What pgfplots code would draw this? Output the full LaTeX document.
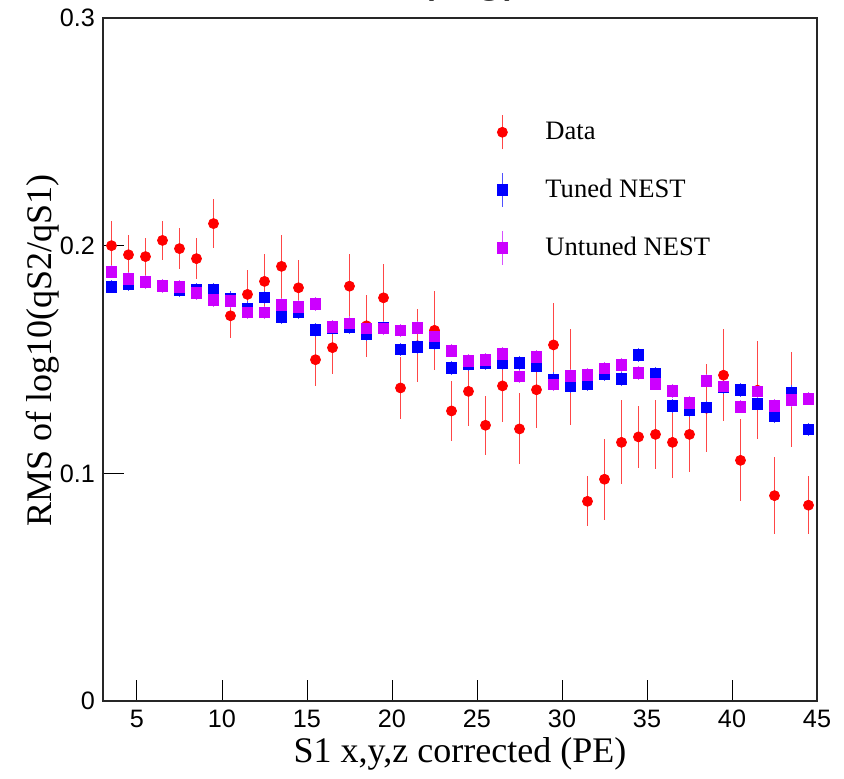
\documentclass[border=0pt]{standalone}
\usepackage{pgfplots}
\pgfplotsset{compat=1.18}
\usepackage{pgfplotstable}
\usepackage{fontspec}
\setmainfont{Liberation Serif}
\newfontfamily\sansf{Liberation Sans}
\definecolor{dred}{RGB}{255,0,0}
\definecolor{dredbar}{RGB}{255,70,70}
\definecolor{dblue}{RGB}{0,0,255}
\definecolor{dbluebar}{RGB}{80,80,255}
\definecolor{dmag}{RGB}{204,0,255}
\definecolor{dmagbar}{RGB}{215,80,255}

\pgfplotstableread{
x     data    derr    tuned   terr   untuned  uerr
3.5   0.2000  0.0110  0.1820  0.003  0.1886   0.003
4.5   0.1960  0.0085  0.1830  0.003  0.1855   0.003
5.5   0.1952  0.0080  0.1838  0.003  0.1840   0.003
6.5   0.2023  0.0084  0.1823  0.003  0.1823   0.003
7.5   0.1987  0.0090  0.1805  0.003  0.1820   0.003
8.5   0.1943  0.0090  0.1805  0.003  0.1793   0.003
9.5   0.2097  0.0107  0.1805  0.003  0.1761   0.003
10.5  0.1692  0.0097  0.1769  0.003  0.1757   0.003
11.5  0.1786  0.0107  0.1725  0.003  0.1706   0.003
12.5  0.1843  0.0120  0.1772  0.003  0.1706   0.003
13.5  0.1909  0.0140  0.1688  0.003  0.1739   0.003
14.5  0.1815  0.0120  0.1710  0.003  0.1731   0.003
15.5  0.1499  0.0114  0.1630  0.003  0.1745   0.003
16.5  0.1552  0.0114  0.1640  0.003  0.1643   0.003
17.5  0.1822  0.0140  0.1641  0.003  0.1659   0.003
18.5  0.1648  0.0137  0.1612  0.003  0.1637   0.003
19.5  0.1771  0.0150  0.1640  0.003  0.1637   0.003
20.5  0.1375  0.0135  0.1544  0.003  0.1627   0.003
21.5  0.1560  0.0160  0.1556  0.003  0.1640   0.003
22.5  0.1628  0.0174  0.1571  0.003  0.1601   0.003
23.5  0.1274  0.0130  0.1464  0.003  0.1539   0.003
24.5  0.1360  0.0150  0.1480  0.003  0.1493   0.003
25.5  0.1211  0.0130  0.1486  0.003  0.1498   0.003
26.5  0.1384  0.0160  0.1486  0.003  0.1524   0.003
27.5  0.1195  0.0156  0.1486  0.003  0.1425   0.003
28.5  0.1367  0.0170  0.1473  0.003  0.1512   0.003
29.5  0.1564  0.0184  0.1413  0.003  0.1391   0.003
30.5  0.1424  0.0210  0.1385  0.003  0.1429   0.003
31.5  0.0877  0.0110  0.1390  0.003  0.1432   0.003
32.5  0.0974  0.0178  0.1436  0.003  0.1460   0.003
33.5  0.1136  0.0185  0.1414  0.003  0.1477   0.003
34.5  0.1160  0.0137  0.1521  0.003  0.1442   0.003
35.5  0.1171  0.0153  0.1436  0.003  0.1394   0.003
36.5  0.1136  0.0156  0.1296  0.003  0.1363   0.003
37.5  0.1171  0.0164  0.1278  0.003  0.1309   0.003
38.5  0.1286  0.0194  0.1289  0.003  0.1407   0.003
39.5  0.1431  0.0203  0.1380  0.003  0.1381   0.003
40.5  0.1057  0.0180  0.1367  0.003  0.1293   0.003
41.5  0.1365  0.0216  0.1306  0.003  0.1359   0.003
42.5  0.0902  0.0170  0.1253  0.003  0.1297   0.003
43.5  0.1325  0.0210  0.1356  0.003  0.1323   0.003
44.5  0.0860  0.0127  0.1193  0.003  0.1328   0.003
}\datatable

\begin{document}
\begin{tikzpicture}
\begin{axis}[
  width=357pt, height=341.5pt, scale only axis,
  xmin=3, xmax=45, ymin=0, ymax=0.3,
  axis line style={line width=0.6pt, black!85},
  xtick={5,10,...,45},
  ytick={0,0.1,0.2,0.3},
  yticklabels={0,0.1,0.2,0.3},
  xtick pos=bottom, ytick pos=left,
  tick align=inside,
  major tick length=10.5pt,
  every tick/.style={black, line width=0.5pt},
  minor tick num=0,
  /pgf/number format/assume math mode=true,
  tick label style={font=\sansf\fontsize{12.6}{14}\selectfont},
  xticklabel style={yshift=-1pt},
  yticklabel style={xshift=-0.5pt},
  xlabel={S1 x,y,z corrected (PE)},
  ylabel={RMS of log10(qS2/qS1)},
  label style={font=\fontsize{18}{21}\selectfont},
  xlabel style={at={(axis description cs:0.5,0)}, anchor=base, yshift=-31pt},
  ylabel style={at={(axis description cs:0,0.513)}, anchor=base, rotate=0, yshift=26pt},
  legend cell align=left,
  legend style={draw=none, fill=none, inner sep=0pt,
    row sep=11pt,
    at={(axis description cs:0.5504,0.8594)}, anchor=north west,
    font=\fontsize{13.3}{15}\selectfont},
  clip=false,
]
\addplot[forget plot, only marks, mark=*, mark size=2.5pt, color=dred,
  error bars/.cd, y dir=both, y explicit,
  error bar style={line width=0.85pt, dredbar}, error mark=none]
  table[x=x, y=data, y error=derr]{\datatable};
\addplot[forget plot, only marks, mark=square*, mark size=2.65pt, color=dblue,
  error bars/.cd, y dir=both, y explicit,
  error bar style={line width=0.85pt, dbluebar}, error mark=none]
  table[x=x, y=tuned, y error=terr]{\datatable};
\addplot[forget plot, only marks, mark=square*, mark size=2.65pt, color=dmag,
  error bars/.cd, y dir=both, y explicit,
  error bar style={line width=0.85pt, dmagbar}, error mark=none]
  table[x=x, y=untuned, y error=uerr]{\datatable};
\addlegendimage{legend image code/.code={
  \draw[dredbar, line width=0.85pt] (0pt,-8.5pt) -- (0pt,8.5pt);
  \fill[dred] (0pt,0pt) circle (2.5pt);
  \path[draw=none, fill=none] (-3pt,0pt) -- (19.5pt,0pt);}}
\addlegendentry{Data}
\addlegendimage{legend image code/.code={
  \draw[dbluebar, line width=0.85pt] (0pt,-8.5pt) -- (0pt,8.5pt);
  \fill[dblue] (-2.65pt,-2.65pt) rectangle (2.65pt,2.65pt);
  \path[draw=none, fill=none] (-3pt,0pt) -- (19.5pt,0pt);}}
\addlegendentry{Tuned NEST}
\addlegendimage{legend image code/.code={
  \draw[dmagbar, line width=0.85pt] (0pt,-8.5pt) -- (0pt,8.5pt);
  \fill[dmag] (-2.65pt,-2.65pt) rectangle (2.65pt,2.65pt);
  \path[draw=none, fill=none] (-3pt,0pt) -- (19.5pt,0pt);}}
\addlegendentry{Untuned NEST}
\end{axis}
\node[overlay, anchor=base, font=\sansf\fontsize{26}{30}\selectfont] at (183.5pt,355.3pt) {(log)};
\pgfresetboundingbox
\path[use as bounding box] (-51.5pt,-39pt) rectangle (370.5pt,350.5pt);
\end{tikzpicture}
\end{document}
